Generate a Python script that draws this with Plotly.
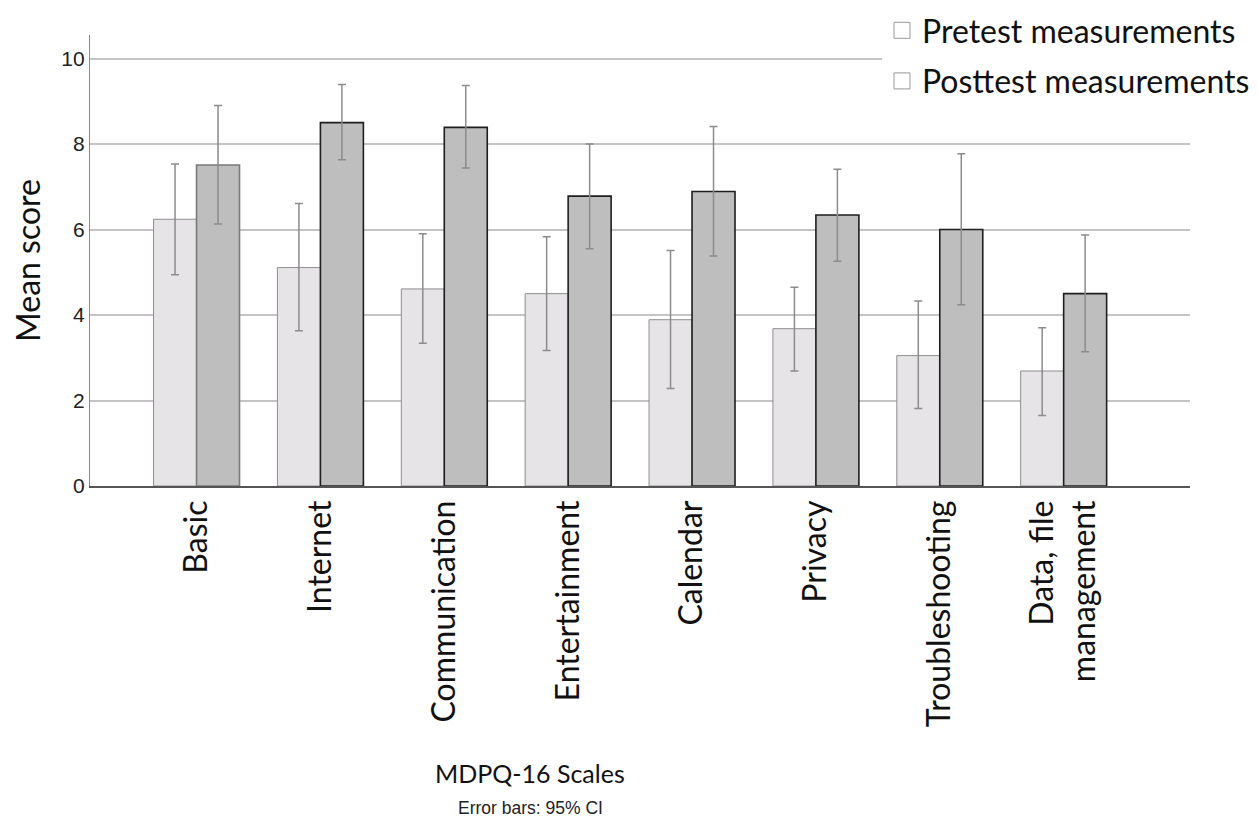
import plotly.graph_objects as go

categories = ["Basic", "Internet", "Communication", "Entertainment", "Calendar",
              "Privacy", "Troubleshooting", "Data, file<br>management"]
pretest_mean = [6.24, 5.11, 4.61, 4.50, 3.89, 3.68, 3.05, 2.69]
pretest_ci_high = [7.53, 6.61, 5.90, 5.83, 5.51, 4.65, 4.33, 3.70]
pretest_ci_low = [4.94, 3.63, 3.34, 3.17, 2.28, 2.69, 1.81, 1.65]
posttest_mean = [7.51, 8.50, 8.39, 6.78, 6.89, 6.34, 6.00, 4.50]
posttest_ci_high = [8.90, 9.39, 9.37, 8.00, 8.41, 7.41, 7.77, 5.87]
posttest_ci_low = [6.13, 7.63, 7.44, 5.55, 5.38, 5.26, 4.24, 3.14]
y_ticks = [0, 2, 4, 6, 8, 10]

CAL = "Lato, 'Open Sans', sans-serif"
ARIAL = "'Liberation Sans', Arial, sans-serif"

W, H = 1258, 820
OFF = 8  # page body margin
# plot area in figure pixels
L, R, T, B = 90 - OFF, 1190 - OFF, 35 - OFF, 486 - OFF
ML, MR, MT, MB = L, 0, 0, H - B
PAPER_W, PAPER_H = W - ML - MR, H - MT - MB

def px_x(sx):  # screenshot x -> paper fraction
    return (sx - OFF - ML) / PAPER_W

def px_y(sy):  # screenshot y -> paper fraction
    return (B - (sy - OFF)) / PAPER_H

def err(mean, hi, lo):
    return dict(type="data", symmetric=False,
                array=[h - m for h, m in zip(hi, mean)],
                arrayminus=[m - l for m, l in zip(mean, lo)],
                color="#8c8c8c", thickness=1.5, width=4)

fig = go.Figure()
fig.add_trace(go.Bar(
    x=categories, y=pretest_mean, name="Pretest measurements", showlegend=False,
    marker=dict(color="#e6e4e6", line=dict(color="#8e8e8e", width=1)),
    error_y=err(pretest_mean, pretest_ci_high, pretest_ci_low)))
post_line = ["#7a7a7a"] + ["#1e1e1e"] * (len(categories) - 1)
fig.add_trace(go.Bar(
    x=categories, y=posttest_mean, name="Posttest measurements", showlegend=False,
    marker=dict(color="#bebebe", line=dict(color=post_line, width=1.6)),
    error_y=err(posttest_mean, posttest_ci_high, posttest_ci_low)))

# legend-only entries (white boxes as in the reference)
for nm, grp in [("Pretest measurements", "a"), ("Posttest measurements", "b")]:
    fig.add_trace(go.Scatter(
        x=[None], y=[None], mode="markers", name=nm, legendgroup=grp,
        marker=dict(symbol="square", size=16, color="white",
                    line=dict(color="#9a9a9a", width=1))))

fig.update_layout(
    width=W, height=H,
    paper_bgcolor="white", plot_bgcolor="white",
    margin=dict(l=ML, r=MR, t=MT, b=MB, autoexpand=False),
    barmode="group", bargap=0.306, bargroupgap=0,
    showlegend=True,
    legend=dict(x=px_x(882), xanchor="left", y=1.0 + 5 / PAPER_H, yanchor="top",
                bgcolor="white", font=dict(family=CAL, size=32, color="#111"),
                tracegroupgap=6, itemwidth=30),
    xaxis=dict(type="category", range=[-0.86, 8.02],
               domain=[0, (R - L) / PAPER_W],
               showline=True, linecolor="#555", linewidth=1.5,
               showgrid=False, ticks="", tickangle=-90,
               tickfont=dict(family=CAL, size=32, color="#111")),
    yaxis=dict(range=[0, 10.55], tickvals=y_ticks,
               domain=[0, (B - T) / PAPER_H],
               showline=True, linecolor="#888", linewidth=1.2,
               showgrid=True, gridcolor="#c4c4c4", gridwidth=1.5,
               ticks="", zeroline=False,
               tickfont=dict(family=ARIAL, size=21, color="#222"),
               title=dict(text="Mean score", font=dict(family=CAL, size=32, color="#111"),
                          standoff=14)),
    annotations=[
        dict(text="MDPQ-16 Scales", xref="paper", yref="paper",
             x=px_x(530), y=px_y(773), xanchor="center", yanchor="middle",
             showarrow=False, font=dict(family=CAL, size=25, color="#111")),
        dict(text="Error bars: 95% CI", xref="paper", yref="paper",
             x=px_x(530), y=px_y(808), xanchor="center", yanchor="middle",
             showarrow=False, font=dict(family=ARIAL, size=17.5, color="#222")),
    ],
)

fig.write_html("out.html")
